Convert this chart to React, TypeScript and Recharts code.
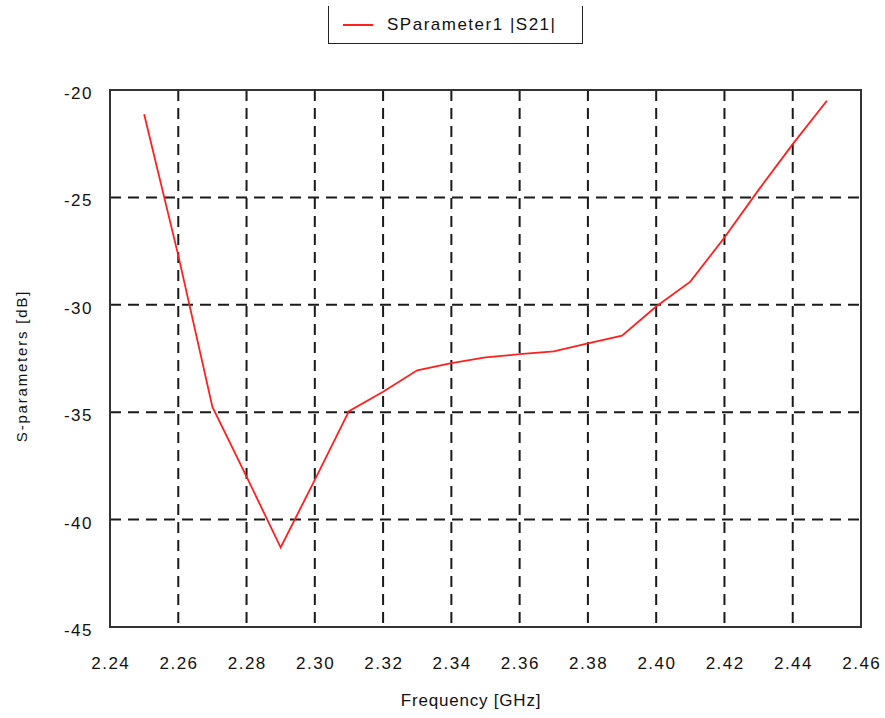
import { LineChart, Line, XAxis, YAxis, CartesianGrid, Legend, ReferenceArea, Label } from 'recharts'

const freqs = [2.25, 2.26, 2.27, 2.28, 2.29, 2.30, 2.31, 2.32, 2.33, 2.34, 2.35, 2.36, 2.37, 2.38, 2.39, 2.40, 2.41, 2.42, 2.43, 2.44, 2.45]
const s21 = [-21.13, -27.7, -34.75, -38.0, -41.3, -38.15, -34.95, -34.05, -33.05, -32.72, -32.45, -32.3, -32.17, -31.8, -31.44, -30.08, -28.92, -26.87, -24.65, -22.52, -20.5]

const xTicks = [2.24, 2.26, 2.28, 2.30, 2.32, 2.34, 2.36, 2.38, 2.40, 2.42, 2.44, 2.46]
const yTicks = [-45, -40, -35, -30, -25, -20]

const seriesName = 'SParameter1 |S21|'
const xTitle = 'Frequency [GHz]'
const yTitle = 'S-parameters [dB]'

const FONT = '"Liberation Sans", Arial, sans-serif'
const SPACING = 1.5

const chartData = freqs.map((f, i) => ({ freq: f, s21: s21[i] }))

function XTick(props: any) {
  const { x, y, payload } = props
  return (
    <text x={x + SPACING / 2} y={y + 34} textAnchor="middle" fontFamily={FONT} fontSize={17} letterSpacing={SPACING} fill="#111">
      {Number(payload.value).toFixed(2)}
    </text>
  )
}

function YTick(props: any) {
  const { y, payload } = props
  return (
    <text x={93} y={y + 9} textAnchor="end" fontFamily={FONT} fontSize={17} letterSpacing={SPACING} fill="#111">
      {payload.value}
    </text>
  )
}

function LegendBox() {
  return (
    <div style={{
      boxSizing: 'border-box', width: 255, height: 38,
      borderLeft: '1.5px solid #222', borderRight: '1.5px solid #222', borderBottom: '1.5px solid #222',
      display: 'flex', alignItems: 'center', fontFamily: FONT, fontSize: 17, letterSpacing: SPACING, color: '#111'
    }}>
      <span style={{ display: 'inline-block', width: 30, height: 2, background: '#ff2020', marginLeft: 14, marginRight: 14 }} />
      <span>{seriesName}</span>
    </div>
  )
}

export default function App() {
  return (
    <div style={{ position: 'absolute', left: 0, top: 0, background: '#fff' }}>
      <LineChart width={885} height={718} data={chartData} margin={{ top: 90, right: 24, bottom: 0, left: 0 }}>
        <CartesianGrid stroke="#1a1a1a" strokeWidth={2} strokeDasharray="11 7" />
        <XAxis
          dataKey="freq"
          type="number"
          domain={[2.24, 2.46]}
          ticks={xTicks}
          height={91}
          axisLine={false}
          tickLine={false}
          tick={<XTick />}
          interval={0}
        >
          <Label
            content={() => (
              <text x={471} y={706} textAnchor="middle" fontFamily={FONT} fontSize={17} letterSpacing={0.8} fill="#111">
                {xTitle}
              </text>
            )}
          />
        </XAxis>
        <YAxis
          type="number"
          domain={[-45, -20]}
          ticks={yTicks}
          width={110}
          axisLine={false}
          tickLine={false}
          tick={<YTick />}
          interval={0}
        >
          <Label
            content={() => (
              <text x={0} y={0} transform="translate(27 366) rotate(-90)" textAnchor="middle" fontFamily={FONT} fontSize={15} letterSpacing={1.8} fill="#111">
                {yTitle}
              </text>
            )}
          />
        </YAxis>
        <ReferenceArea x1={2.24} x2={2.46} y1={-45} y2={-20} fill="none" stroke="#333" strokeWidth={2} />
        <Legend
          layout="horizontal"
          verticalAlign="middle"
          align="center"
          content={<LegendBox />}
          wrapperStyle={{ position: 'absolute', top: 6, left: 328, width: 255, height: 38 }}
        />
        <Line
          type="linear"
          dataKey="s21"
          name={seriesName}
          stroke="#ff2020"
          strokeWidth={1.8}
          dot={false}
          isAnimationActive={false}
        />
      </LineChart>
    </div>
  )
}
